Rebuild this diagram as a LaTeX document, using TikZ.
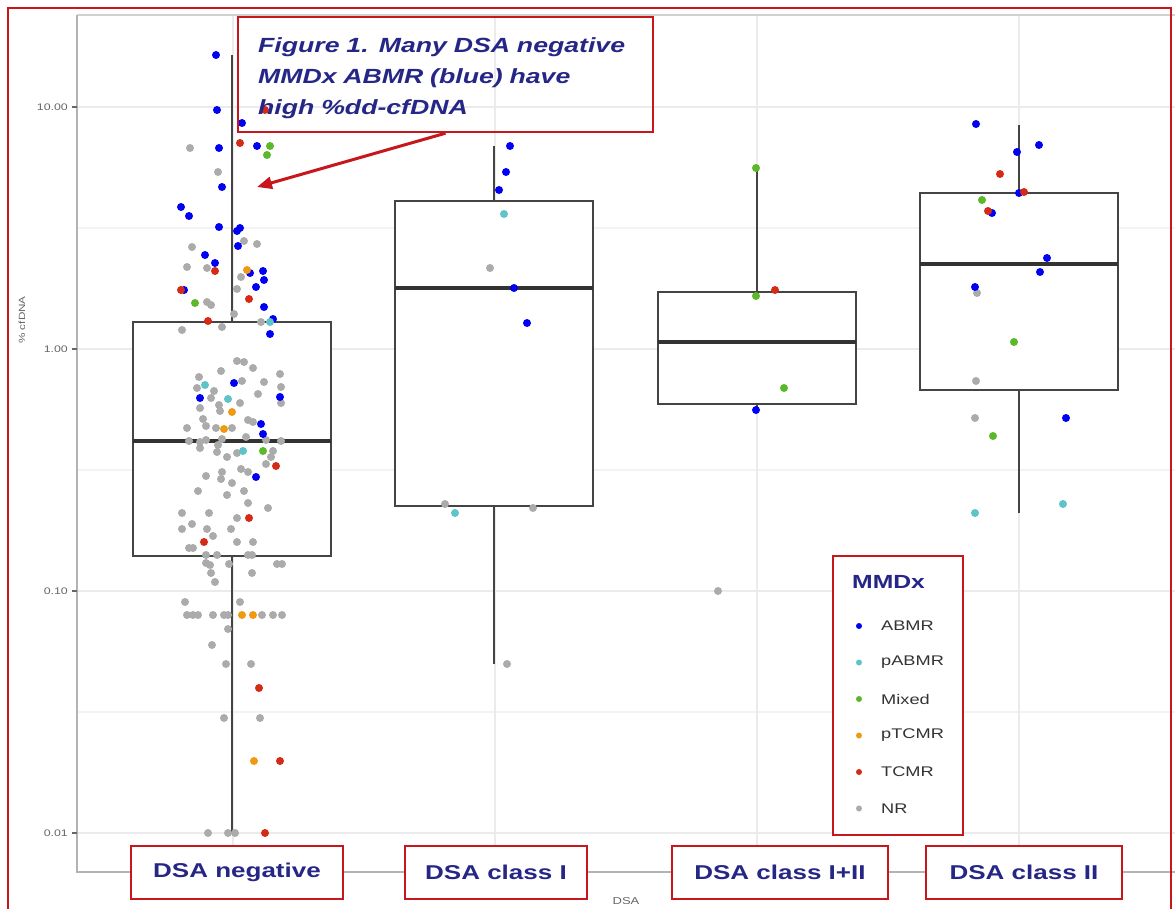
\documentclass[tikz,border=0pt]{standalone}
\usepackage{fontspec}
\setmainfont{Liberation Sans}[FakeStretch=1.3]
\usepackage{xcolor}
\usetikzlibrary{arrows.meta}
\definecolor{navy}{HTML}{262687}
\definecolor{frame}{HTML}{C8161D}
\definecolor{abmr}{HTML}{0000F5}
\definecolor{pabmr}{HTML}{5EC4C9}
\definecolor{mixed}{HTML}{5CB82A}
\definecolor{ptcmr}{HTML}{EE9A12}
\definecolor{tcmr}{HTML}{D42A16}
\definecolor{nr}{HTML}{ABABAB}
\definecolor{gridc}{HTML}{EBEBEB}
\definecolor{axisc}{HTML}{B3B3B3}
\definecolor{boxc}{HTML}{444444}
\definecolor{tickc}{HTML}{666666}
\tikzset{
  catbox/.style={draw=frame,line width=2.4pt,fill=white,align=center,
    minimum height=53pt,text=navy,font=\fontsize{20}{24}\selectfont\bfseries},
  ticklabel/.style={anchor=east,inner sep=0pt,text=tickc,font=\fontsize{9.5}{11}\selectfont},
  gridmajor/.style={draw=gridc,line width=1.5pt},
  gridminor/.style={draw=gridc!60,line width=1.2pt},
  axisline/.style={draw=axisc,line width=2pt},
  whisker/.style={draw=boxc,line width=2pt},
  boxline/.style={draw=boxc,line width=2pt,fill=white},
  medline/.style={draw=black!80,line width=3.5pt},
  arrow/.style={-{Triangle[length=15pt,width=12pt]},line width=3pt,draw=frame},
  legitem/.style={anchor=west,inner sep=0pt,text=black!80,font=\fontsize{14}{16}\selectfont}
}
\begin{document}
\begin{tikzpicture}[x=1pt,y=-1pt]
  \useasboundingbox (0,0) rectangle (1175,909);
  \foreach \yy in {228,470,712}
    \draw[gridminor] (77,\yy) -- (1175,\yy);
  \foreach \yy in {107,349,591,833}
    \draw[gridmajor] (77,\yy) -- (1175,\yy);
  \foreach \x in {233,495,757,1019}
    \draw[gridmajor] (\x,15) -- (\x,872);
  \draw[axisc!60,line width=1.5pt] (77,15) -- (1175,15);
  \draw[axisline] (77,15) -- (77,872) -- (1175,872);
  \foreach \v/\yy in {10.00/107,1.00/349,0.10/591,0.01/833}{
    \node[ticklabel] (tick\yy) at (68,\yy) {\v};
    \draw[tickc,line width=1.2pt] (72,\yy) -- (77,\yy);
  }
  \node[rotate=90,text=tickc,font=\fontsize{9}{11}\selectfont] (ylab) at (22,320) {\% cfDNA};
  \node[text=tickc,font=\fontsize{10}{12}\selectfont] (xlab) at (626,901) {DSA};

  \foreach \cx/\wt/\qt/\md/\qb/\wb in {232/55/322/441/556/833,494/146/201/288/506/664,
      756.5/168/292/342/404/410,1018.5/125/193/264/390/513}{
    \draw[whisker] (\cx,\wt) -- (\cx,\qt);
    \draw[whisker] (\cx,\qb) -- (\cx,\wb);
    \draw[boxline] (\cx-99,\qt) rectangle (\cx+99,\qb);
    \draw[medline] (\cx-99,\md) -- (\cx+99,\md);
  }

  \foreach \x/\y in {190/148,218/172,244/241,257/244,192/247,187/267,207/268,241/277,237/289,
      207/302,211/305,234/314,222/327,261/322,182/330,237/361,244/362,253/368,221/371,280/374,
      199/377,242/381,264/382,197/388,281/387,214/391,258/394,211/398,240/403,219/405,281/403,
      200/408,220/411,203/419,248/420,253/422,206/426,187/428,216/428,232/428,189/441,200/442,
      206/440,222/439,246/437,266/440,281/441,200/448,218/445,217/452,237/453,273/451,227/457,
      271/457,266/464,241/469,222/472,248/472,206/476,221/479,232/483,198/491,244/491,227/495,
      248/503,268/508,182/513,209/513,237/518,192/524,182/529,207/529,231/529,213/536,237/542,
      253/542,189/548,193/548,206/555,217/555,248/555,252/555,206/563,210/565,229/564,277/564,
      282/564,211/573,252/573,215/582,185/602,240/602,187/615,193/615,198/615,213/615,224/615,
      228/615,262/615,273/615,282/615,228/629,212/645,226/664,251/664,224/718,260/718,208/833,
      228/833,235/833,490/268,445/504,533/508,507/664,718/591,977/293,976/381,975/418}
    \fill[nr] (\x,\y) circle (4pt);
  \foreach \x/\y in {216/55,217/110,242/123,219/148,257/146,222/187,181/207,189/216,219/227,
      240/228,237/231,238/246,205/255,215/263,250/273,263/271,264/280,256/287,184/290,264/307,
      273/319,270/334,234/383,200/398,280/397,261/424,263/434,256/477,510/146,506/172,499/190,
      514/288,527/323,756/410,976/124,1039/145,1017/152,1019/193,992/213,1047/258,1040/272,
      975/287,1066/418}
    \fill[abmr] (\x,\y) circle (4pt);
  \foreach \x/\y in {270/322,205/385,228/399,243/451,504/214,455/513,975/513,1063/504}
    \fill[pabmr] (\x,\y) circle (4pt);
  \foreach \x/\y in {270/146,267/155,195/303,263/451,756/168,756/296,784/388,982/200,1014/342,993/436}
    \fill[mixed] (\x,\y) circle (4pt);
  \foreach \x/\y in {247/270,232/412,224/429,242/615,253/615,254/761}
    \fill[ptcmr] (\x,\y) circle (4pt);
  \foreach \x/\y in {265/110,240/143,215/271,181/290,249/299,208/321,276/466,249/518,204/542,
      259/688,280/761,265/833,775/290,1000/174,1024/192,988/211}
    \fill[tcmr] (\x,\y) circle (4pt);

  \node[draw=frame,line width=2.4pt,minimum width=415pt,minimum height=115pt] (title) at (445.5,74.5) {};
  \node[anchor=north west,inner sep=0pt,text width=395pt,align=left,text=navy,
    font=\fontsize{20.5}{31}\selectfont\bfseries\itshape] (titletext) at (258,37)
    {Figure 1. Many DSA negative\\MMDx ABMR (blue) have\\high \%dd-cfDNA};
  \coordinate (tip) at (257,187);
  \draw[arrow] (title.south) -- (tip);

  \node[draw=frame,line width=2.4pt,fill=white,minimum width=130pt,minimum height=279pt]
    (legend) at (898,695.5) {};
  \node[anchor=west,inner sep=0pt,text=navy,font=\fontsize{19}{22}\selectfont\bfseries]
    (legtitle) at (852,582) {MMDx};
  \foreach \c/\t [count=\i] in {abmr/ABMR,pabmr/pABMR,mixed/Mixed,ptcmr/pTCMR,tcmr/TCMR,nr/NR}{
    \fill[\c] (859,{626+36.5*(\i-1)}) circle (3pt);
    \node[legitem] (leg\i) at (881,{626+36.5*(\i-1)}) {\t};
  }

  \node[catbox,minimum width=212pt] (lbneg) at (237,872.5) {DSA negative};
  \node[catbox,minimum width=182pt] (lbone) at (496,872.5) {DSA class I};
  \node[catbox,minimum width=216pt] (lbboth) at (780,872.5) {DSA class I+II};
  \node[catbox,minimum width=196pt] (lbtwo) at (1024,872.5) {DSA class II};

  \draw[frame,line width=2pt] (8,8) rectangle (1171,940);
\end{tikzpicture}
\end{document}
